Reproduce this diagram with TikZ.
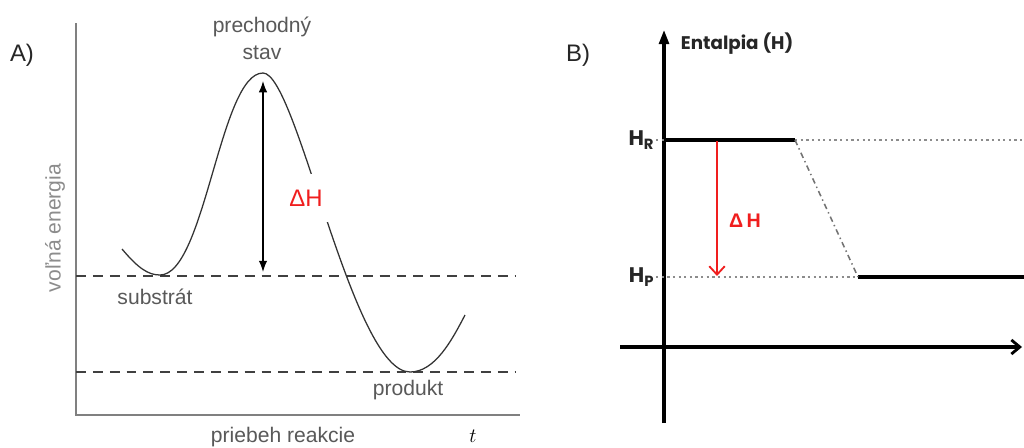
\documentclass[tikz,border=0pt]{standalone}
\usepackage{fontspec}
\setmainfont{Liberation Sans}
\newfontfamily\popfont{Poppins}
\usepackage{xcolor}
\usetikzlibrary{positioning,arrows.meta}
\definecolor{sedaA}{HTML}{595959}
\definecolor{sedaOs}{HTML}{808080}
\definecolor{cervena}{HTML}{F01E1E}

\begin{document}
\begin{tikzpicture}[x=0.025cm,y=-0.025cm,
  every node/.style={font=\fontsize{15}{17}\selectfont,text=sedaA},
  hladina/.style={dash pattern=on 7pt off 5pt,line width=0.8pt,draw=black!75},
  bodky/.style={dash pattern=on 1.6pt off 2.4pt,line width=1.2pt,draw=black!45},
  hrubo/.style={line width=2.2pt,draw=black},
  popis/.style={font=\popfont\bfseries\fontsize{13}{15}\selectfont,text=black!85}]
  \useasboundingbox (0,0) rectangle (1024,447);
  \fill[white] (0,0) rectangle (1024,447);

  % A) axes
  \coordinate (a0) at (76,415);
  \coordinate (ay) at (76,23);
  \coordinate (ax) at (520,415);
  \draw[draw=sedaOs,line width=1.1pt] (ay) -- (a0) -- (ax);
  \node[font=\fontsize{17}{19}\selectfont,text=black!85] (lblA) at (22,55) {A)};
  \node[rotate=90,text=black!45] (osA) at (55,228) {voľná energia};
  \node (reak) at (283,437) {priebeh reakcie};
  \node[text=black] (cas) at (473,436) {$t$};

  % A) substrate and product levels
  \coordinate (s0) at (76,276);
  \coordinate (s1) at (515,276);
  \coordinate (p0) at (76,372);
  \coordinate (p1) at (515,372);
  \draw[hladina] (s0) -- (s1);
  \draw[hladina] (p0) -- (p1);

  % A) energy curve
  \draw[line width=0.9pt,draw=black!80]
    (122,249) .. controls (138,268) and (148,275) .. (160,275)
    .. controls (205,275) and (220,73) .. (263,73)
    .. controls (297,73) and (352,372) .. (410,372)
    .. controls (435,372) and (452,340) .. (465,315);
  \node[text=cervena,fill=white,minimum width=1.1cm,minimum height=1.2cm,
    inner sep=0pt,font=\fontsize{17}{19}\selectfont] (dHa) at (306,198) {ΔH};

  % A) double arrow
  \coordinate (vrch) at (263,81);
  \coordinate (dno) at (263,272);
  \draw[line width=0.9pt,{Latex[length=8pt,width=6pt]}-{Latex[length=8pt,width=6pt]}] (vrch) -- (dno);

  \node[align=center,font=\fontsize{15}{19}\selectfont] (prech) at (262,38) {prechodný\\stav};
  \node (subs) at (155,297) {substrát};
  \node (prod) at (408,390) {produkt};

  % B) axes
  \coordinate (b0) at (664,347);
  \coordinate (by) at (664,30);
  \coordinate (byd) at (664,423);
  \coordinate (bxl) at (620,347);
  \coordinate (bxp) at (1022,347);
  \draw[hrubo,-{Triangle[length=10pt,width=7pt]}] (byd) -- (by);
  \draw[hrubo,-{Straight Barb[length=6pt,width=10pt,line width=2pt]}] (bxl) -- (bxp);
  \node[font=\fontsize{17}{19}\selectfont,text=black!85] (lblB) at (578,55) {B)};
  \node[popis,anchor=west] (ental) at (676,44) {Entalpia (H)};

  % B) enthalpy levels
  \coordinate (hrt) at (656,140);
  \coordinate (hr0) at (664,140);
  \coordinate (hr1) at (795,140);
  \coordinate (hrk) at (1024,140);
  \coordinate (hpt) at (656,277);
  \coordinate (hp0) at (664,277);
  \coordinate (hp1) at (858,277);
  \coordinate (hpk) at (1024,277);
  \draw[bodky] (hrt) -- (hr0);
  \draw[hrubo] (hr0) -- (hr1);
  \draw[bodky] (hr1) -- (hrk);
  \draw[bodky] (hpt) -- (hp1);
  \draw[hrubo] (hp1) -- (hpk);
  \draw[line width=1.1pt,draw=black!55,dash pattern=on 4pt off 2.5pt on 1pt off 2.5pt] (hr1) -- (hp1);
  \node[popis,anchor=east,font=\popfont\bfseries\fontsize{15}{17}\selectfont,inner sep=1pt] (hR) at (hrt) {H\textsubscript{R}};
  \node[popis,anchor=east,font=\popfont\bfseries\fontsize{15}{17}\selectfont,inner sep=1pt] (hP) at (hpt) {H\textsubscript{P}};

  % B) enthalpy change
  \coordinate (dh1) at (717,141);
  \coordinate (dh2) at (717,276);
  \draw[cervena,line width=1.3pt,-{Straight Barb[length=6pt,width=11pt]}] (dh1) -- (dh2);
  \node[text=cervena,font=\bfseries\fontsize{14}{16}\selectfont] (dHb) at (745,221) {Δ\,H};
\end{tikzpicture}
\end{document}
